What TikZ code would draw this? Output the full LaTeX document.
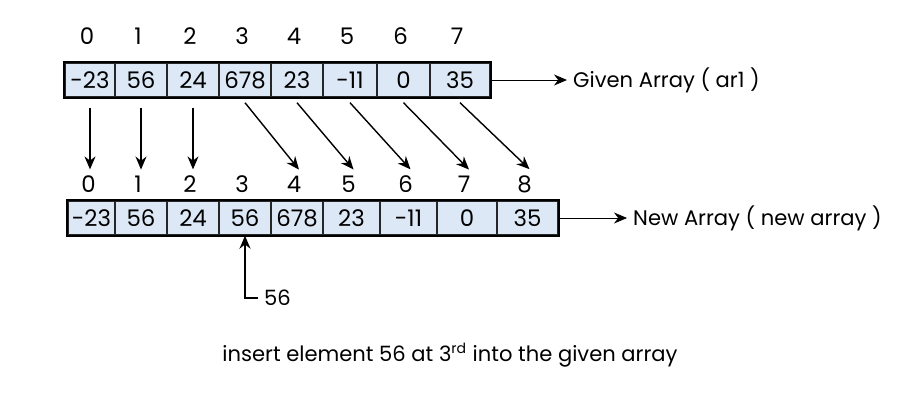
\documentclass[tikz,border=0pt]{standalone}
\usepackage{fontspec}
\setmainfont{Poppins}
\usetikzlibrary{positioning,arrows.meta}
\definecolor{cellfill}{HTML}{DDE8F6}
\tikzset{
  cellbox/.style={draw=black!85, thick, fill=cellfill, minimum height=0.68cm, inner sep=0pt, font=\fontsize{13}{15}\selectfont},
  idx/.style={font=\fontsize{13}{15}\selectfont},
  lbl/.style={font=\fontsize{12}{14}\selectfont},
  arr/.style={-{Stealth[length=2.6mm,width=2.2mm]}, thick}
}
\begin{document}
\begin{tikzpicture}[x=0.02cm,y=-0.02cm]
\useasboundingbox (0,0) rectangle (900,400);
% given array
\foreach \v/\l/\r [count=\i from 0] in {-23/65/115,56/115/167,24/167/219,678/219/271,23/271/323,-11/323/377,0/377/430,35/430/490}{
  \pgfmathsetmacro\w{(\r-\l)*0.02}
  \node[cellbox, minimum width=\w cm] (t\i) at ({(\l+\r)/2},80) {\v};
  \node[idx] (ti\i) at ({(\l+\r)/2-3},36) {\i};
}
\draw[very thick] (t0.north west) rectangle (t7.south east);
% new array
\foreach \v/\l/\r [count=\i from 0] in {-23/68/115,56/115/167,24/167/219,56/219/271,678/271/323,23/323/380,-11/380/437,0/437/497,35/497/558}{
  \pgfmathsetmacro\w{(\r-\l)*0.02}
  \node[cellbox, minimum width=\w cm] (b\i) at ({(\l+\r)/2},218) {\v};
  \node[idx] (bi\i) at ({(\l+\r)/2-3},184) {\i};
}
\draw[very thick] (b0.north west) rectangle (b8.south east);
% moves
\foreach \i in {0,1,2}{
  \draw[arr] ([yshift=-2mm]t\i.south) -- (t\i.south |- bi\i.north);
}
\foreach \i/\j in {3/4,4/5,5/6,6/7,7/8}{
  \draw[arr] ([yshift=-1mm]t\i.south) -- ([xshift=1mm]bi\j.north);
}
\node[lbl, anchor=west] (given) at (567,80) {Given Array ( ar1 )};
\draw[arr, thin] (t7.east) -- (given.west);
\node[lbl, anchor=west] (new) at (627,218) {New Array ( new array )};
\draw[arr, thin] (b8.east) -- (new.west);
% inserted element
\node[lbl, anchor=west] (ins) at (258,298) {56};
\coordinate (corner) at (b3.south |- ins.west);
\draw[arr] (ins.west) -- (corner) -- (b3.south);
\node[lbl] (cap) at (450,355) {insert element 56 at 3\textsuperscript{rd} into the given array};
\end{tikzpicture}
\end{document}
